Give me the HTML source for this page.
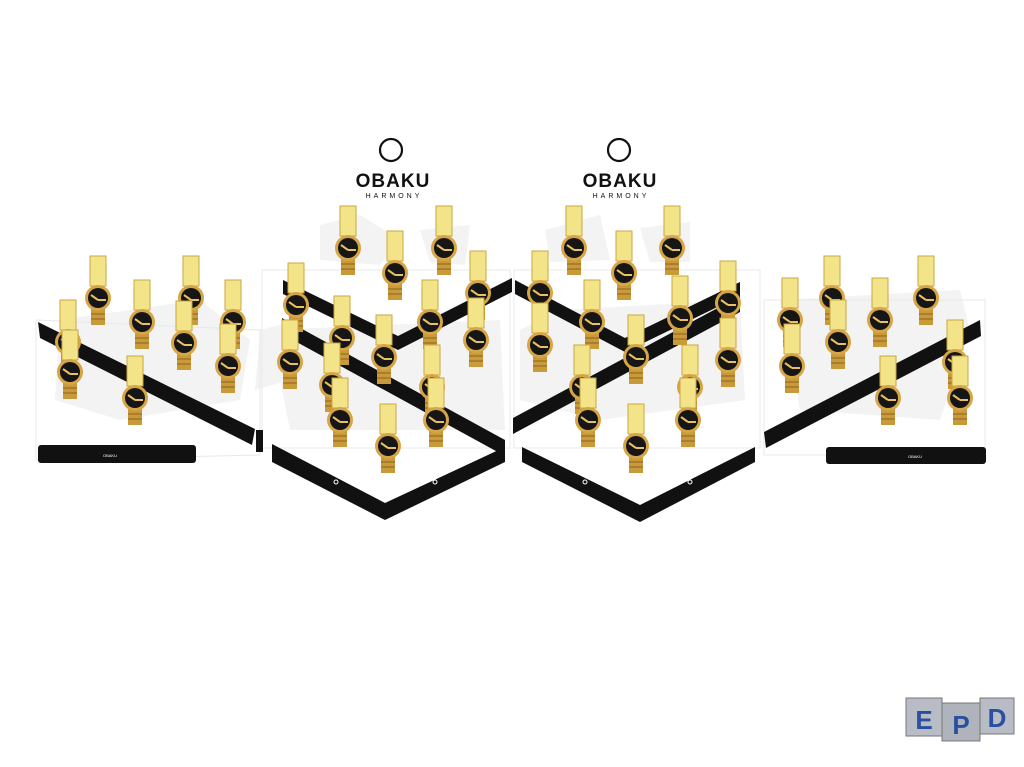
<!DOCTYPE html>
<html><head><meta charset="utf-8"><style>
html,body{margin:0;padding:0;background:#fff;width:1024px;height:767px;overflow:hidden}
svg{display:block}
text{font-family:"Liberation Sans",sans-serif}
</style></head><body>
<svg width="1024" height="767" viewBox="0 0 1024 767" xmlns="http://www.w3.org/2000/svg">
<defs>
<g id="w">
<rect x="-8" y="-42" width="16" height="30" fill="#f3e48a" stroke="#c9a640" stroke-width="1"/>
<rect x="-7" y="11" width="14" height="16" fill="#c99a3a"/>
<line x1="-7" y1="16" x2="7" y2="16" stroke="#8a6220"/>
<line x1="-7" y1="21" x2="7" y2="21" stroke="#8a6220"/>
<circle r="13" fill="#d7a545"/>
<circle r="10" fill="#161616"/>
<line x1="-7" y1="-3" x2="0" y2="2" stroke="#e8c060" stroke-width="2"/>
<line x1="0" y1="2" x2="8" y2="2" stroke="#e8c060" stroke-width="2"/>
</g>
</defs>
<g fill="#eeeeee" opacity="0.7">
<polygon points="320,225 360,215 400,240 380,265 320,260"/>
<polygon points="420,230 470,225 465,265 430,262"/>
<polygon points="545,230 600,215 610,260 550,262"/>
<polygon points="640,228 690,222 690,262 650,262"/>
<polygon points="260,330 300,320 290,380 255,390"/>
<polygon points="60,320 200,300 250,340 240,400 120,420 55,400"/>
<polygon points="780,300 960,290 970,330 940,420 800,410"/>
<polygon points="520,330 560,310 740,300 745,400 600,420 520,400"/>
<polygon points="270,330 500,320 505,430 290,430"/>
</g>
<g fill="none" stroke="#e8e8e8" stroke-width="1">
<polygon points="36,320 260,330 260,455 36,460"/>
<polygon points="262,270 510,270 510,448 262,448"/>
<polygon points="514,270 760,270 760,448 514,448"/>
<polygon points="764,300 985,300 985,455 764,455"/>
</g>
<g fill="#111">
<polygon points="38,322 40,338 252,445 255,429"/>
<rect x="38" y="445" width="158" height="18" rx="3"/>
<rect x="256" y="430" width="7" height="22"/>
<polygon points="283,280 283,294 398,350 512,292 512,278 398,336"/>
<polygon points="282,318 282,334 505,456 505,440"/>
<polygon points="272,444 272,462 385,520 505,462 505,447 385,503"/>
<polygon points="740,282 740,296 625,352 515,294 515,280 625,338"/>
<polygon points="513,418 513,434 740,312 740,296"/>
<polygon points="522,447 522,462 640,522 755,462 755,447 640,505"/>
<polygon points="764,432 766,448 981,336 980,320"/>
<rect x="826" y="447" width="160" height="17" rx="3"/>
</g>
<g fill="#fff" font-size="4">
<text x="110" y="457" text-anchor="middle">OBAKU</text>
<text x="915" y="458" text-anchor="middle">OBAKU</text>
<circle cx="336" cy="482" r="2" fill="none" stroke="#fff"/>
<circle cx="435" cy="482" r="2" fill="none" stroke="#fff"/>
<circle cx="585" cy="482" r="2" fill="none" stroke="#fff"/>
<circle cx="690" cy="482" r="2" fill="none" stroke="#fff"/>
</g>
<g>
<circle cx="391" cy="150" r="11" fill="none" stroke="#111" stroke-width="2.2"/>
<text x="393" y="187" font-size="19" font-weight="bold" text-anchor="middle" fill="#111" letter-spacing="1">OBAKU</text>
<text x="394" y="198" font-size="7" text-anchor="middle" fill="#111" letter-spacing="3">HARMONY</text>
<circle cx="619" cy="150" r="11" fill="none" stroke="#111" stroke-width="2.2"/>
<text x="620" y="187" font-size="19" font-weight="bold" text-anchor="middle" fill="#111" letter-spacing="1">OBAKU</text>
<text x="621" y="198" font-size="7" text-anchor="middle" fill="#111" letter-spacing="3">HARMONY</text>
</g>
<g>
<use href="#w" x="98" y="298"/><use href="#w" x="191" y="298"/><use href="#w" x="142" y="322"/><use href="#w" x="233" y="322"/>
<use href="#w" x="184" y="343"/><use href="#w" x="228" y="366"/><use href="#w" x="68" y="342"/><use href="#w" x="70" y="372"/><use href="#w" x="135" y="398"/>
<use href="#w" x="348" y="248"/><use href="#w" x="444" y="248"/><use href="#w" x="395" y="273"/><use href="#w" x="478" y="293"/>
<use href="#w" x="296" y="305"/><use href="#w" x="430" y="322"/><use href="#w" x="342" y="338"/><use href="#w" x="476" y="340"/>
<use href="#w" x="384" y="357"/><use href="#w" x="290" y="362"/><use href="#w" x="332" y="385"/><use href="#w" x="432" y="387"/>
<use href="#w" x="340" y="420"/><use href="#w" x="436" y="420"/><use href="#w" x="388" y="446"/>
<use href="#w" x="574" y="248"/><use href="#w" x="672" y="248"/><use href="#w" x="624" y="273"/><use href="#w" x="540" y="293"/>
<use href="#w" x="728" y="303"/><use href="#w" x="592" y="322"/><use href="#w" x="680" y="318"/><use href="#w" x="540" y="345"/>
<use href="#w" x="636" y="357"/><use href="#w" x="728" y="360"/><use href="#w" x="582" y="387"/><use href="#w" x="690" y="387"/>
<use href="#w" x="588" y="420"/><use href="#w" x="688" y="420"/><use href="#w" x="636" y="446"/>
<use href="#w" x="832" y="298"/><use href="#w" x="926" y="298"/><use href="#w" x="790" y="320"/><use href="#w" x="880" y="320"/>
<use href="#w" x="838" y="342"/><use href="#w" x="792" y="366"/><use href="#w" x="955" y="362"/><use href="#w" x="888" y="398"/><use href="#w" x="960" y="398"/>
</g>
<g font-size="26" font-weight="bold" text-anchor="middle" fill="#2a4fa0">
<rect x="906" y="698" width="36" height="38" fill="#b8bcc4" stroke="#777"/>
<rect x="942" y="703" width="38" height="38" fill="#aeb3bc" stroke="#777"/>
<rect x="980" y="698" width="34" height="36" fill="#b8bcc4" stroke="#777"/>
<text x="924" y="729">E</text><text x="961" y="734">P</text><text x="997" y="727">D</text>
</g>
</svg>
</body></html>
